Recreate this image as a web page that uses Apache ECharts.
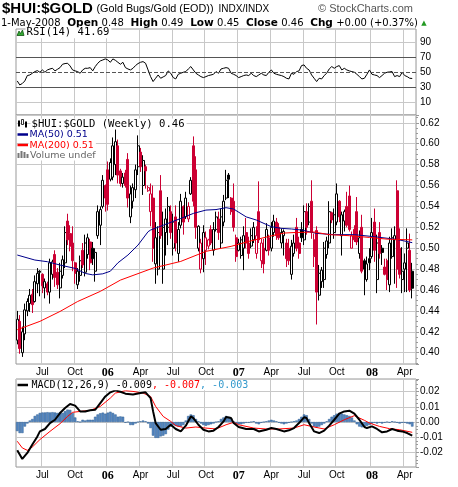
<!DOCTYPE html>
<html><head><meta charset="utf-8">
<script src="https://cdn.jsdelivr.net/npm/echarts@6/dist/echarts.min.js"></script>
<style>html,body{margin:0;padding:0;background:#fff}#c{width:458px;height:487px}</style>
</head><body><div id="c"></div>
<script>
// ---- weekly categories (Monday of each week), plus one empty pad week ----
const firstWeek = [2005, 3, 25];
const weekCount = 159;
const categories = [];
for (let k = 0; k < weekCount; k++) {
  const d = new Date(Date.UTC(firstWeek[0], firstWeek[1], firstWeek[2] + 7 * k));
  categories.push(d.toISOString().slice(0, 10));
}
const monthNames = ['Jan','Feb','Mar','Apr','May','Jun','Jul','Aug','Sep','Oct','Nov','Dec'];

// ---- candles (weekly) ----
const open = [0.412,0.430,0.400,0.418,0.440,0.447,0.456,0.449,0.466,0.478,0.475,0.462,0.466,0.458,0.475,0.494,0.477,0.462,0.474,0.486,
0.526,0.514,0.505,0.486,0.465,0.474,0.498,0.477,0.494,0.506,0.500,0.478,0.512,0.522,0.540,0.560,0.575,0.566,0.568,0.580,
0.598,0.574,0.562,0.572,0.585,0.530,0.545,0.556,0.578,0.592,0.560,0.578,0.555,0.535,0.548,0.485,0.480,0.555,0.480,0.515,
0.520,0.535,0.500,0.530,0.495,0.522,0.540,0.530,0.528,0.552,0.598,0.575,0.500,0.480,0.490,0.498,0.502,0.518,0.498,0.518,
0.528,0.505,0.525,0.548,0.570,0.548,0.545,0.510,0.498,0.493,0.500,0.515,0.505,0.502,0.508,0.495,0.535,0.488,0.500,0.498,
0.510,0.500,0.515,0.525,0.520,0.505,0.512,0.505,0.500,0.475,0.495,0.520,0.505,0.518,0.508,0.535,0.525,0.545,0.508,0.517,
0.455,0.468,0.470,0.494,0.505,0.534,0.515,0.525,0.545,0.512,0.526,0.540,0.550,0.500,0.518,0.535,0.495,0.520,0.488,0.470,
0.490,0.492,0.525,0.470,0.515,0.500,0.482,0.488,0.465,0.492,0.508,0.555,0.500,0.470,0.480,0.500,0.498,0.478];
const close = [0.432,0.404,0.420,0.441,0.449,0.455,0.446,0.468,0.476,0.477,0.464,0.468,0.458,0.486,0.487,0.472,0.465,0.478,0.489,0.515,
0.508,0.502,0.488,0.476,0.478,0.488,0.484,0.505,0.510,0.486,0.490,0.496,0.535,0.537,0.565,0.548,0.542,0.582,0.598,0.602,
0.570,0.562,0.568,0.560,0.548,0.552,0.558,0.575,0.598,0.578,0.584,0.574,0.558,0.552,0.500,0.510,0.515,0.512,0.520,0.528,
0.540,0.515,0.525,0.505,0.518,0.545,0.525,0.548,0.540,0.565,0.545,0.520,0.521,0.505,0.515,0.510,0.508,0.505,0.518,0.530,
0.515,0.530,0.545,0.565,0.566,0.535,0.520,0.492,0.505,0.508,0.512,0.505,0.495,0.512,0.520,0.512,0.508,0.505,0.485,0.518,
0.498,0.520,0.526,0.512,0.510,0.515,0.516,0.490,0.488,0.502,0.505,0.500,0.495,0.510,0.535,0.520,0.540,0.515,0.492,0.458,
0.476,0.479,0.500,0.507,0.535,0.527,0.532,0.552,0.530,0.532,0.535,0.522,0.518,0.512,0.508,0.506,0.510,0.478,0.480,0.485,
0.486,0.515,0.498,0.505,0.495,0.496,0.475,0.470,0.505,0.510,0.512,0.480,0.475,0.478,0.486,0.505,0.460,0.4617];
const low = [0.408,0.399,0.396,0.412,0.435,0.439,0.438,0.448,0.457,0.454,0.457,0.452,0.455,0.447,0.470,0.463,0.461,0.452,0.471,0.481,
0.503,0.497,0.478,0.466,0.461,0.468,0.481,0.473,0.490,0.479,0.484,0.468,0.509,0.503,0.538,0.535,0.536,0.564,0.565,0.570,
0.562,0.559,0.558,0.558,0.539,0.524,0.538,0.548,0.570,0.573,0.551,0.557,0.554,0.521,0.487,0.466,0.474,0.509,0.466,0.493,
0.503,0.509,0.493,0.497,0.487,0.519,0.513,0.528,0.525,0.551,0.540,0.509,0.497,0.476,0.477,0.484,0.499,0.503,0.493,0.516,
0.508,0.500,0.521,0.546,0.548,0.532,0.516,0.487,0.497,0.490,0.479,0.500,0.490,0.500,0.505,0.490,0.505,0.481,0.476,0.497,
0.493,0.497,0.511,0.508,0.508,0.500,0.493,0.482,0.484,0.470,0.492,0.497,0.490,0.506,0.503,0.513,0.522,0.509,0.482,0.427,
0.450,0.462,0.462,0.490,0.500,0.524,0.509,0.522,0.525,0.493,0.516,0.520,0.516,0.500,0.506,0.503,0.490,0.476,0.455,0.468,
0.479,0.490,0.487,0.457,0.490,0.484,0.474,0.460,0.458,0.490,0.466,0.462,0.471,0.457,0.458,0.458,0.458,0.452];
const high = [0.440,0.436,0.425,0.447,0.452,0.461,0.461,0.474,0.481,0.479,0.476,0.471,0.468,0.490,0.489,0.498,0.481,0.486,0.493,0.521,
0.533,0.522,0.521,0.487,0.481,0.493,0.505,0.513,0.514,0.509,0.506,0.500,0.541,0.540,0.570,0.561,0.583,0.586,0.606,0.614,
0.604,0.576,0.572,0.575,0.591,0.560,0.562,0.580,0.608,0.596,0.589,0.580,0.560,0.562,0.560,0.525,0.521,0.570,0.535,0.538,
0.549,0.541,0.533,0.541,0.525,0.552,0.541,0.554,0.544,0.568,0.607,0.588,0.522,0.509,0.522,0.516,0.509,0.522,0.525,0.535,
0.535,0.538,0.551,0.575,0.572,0.549,0.562,0.513,0.509,0.511,0.521,0.529,0.511,0.519,0.525,0.521,0.564,0.509,0.509,0.524,
0.513,0.525,0.532,0.529,0.524,0.519,0.518,0.509,0.509,0.508,0.513,0.529,0.511,0.525,0.541,0.543,0.543,0.565,0.514,0.521,
0.484,0.482,0.506,0.511,0.545,0.535,0.538,0.562,0.546,0.535,0.537,0.554,0.560,0.516,0.522,0.549,0.517,0.532,0.490,0.492,
0.500,0.529,0.538,0.513,0.525,0.503,0.490,0.490,0.511,0.519,0.521,0.565,0.519,0.501,0.495,0.519,0.514,0.486];

// ---- moving averages (read at points along the lines) ----
const ma50 = [[0,0.4935],[7,0.4887],[12,0.4871],[17,0.4839],[23,0.4807],[27,0.4759],[30,0.4745],[34,0.4755],[37,0.478],[40,0.486],
[44,0.4935],[48,0.503],[52,0.5158],[53,0.5174],[58,0.522],[65,0.5285],[70,0.5333],[75,0.5365],[79,0.537],[83,0.5388],[86,0.5375],
[91,0.530],[95,0.527],[101,0.5206],[105,0.519],[109,0.5184],[113,0.5174],[119,0.5142],[126,0.513],[134,0.513],[142,0.511],[151,0.5084],[157,0.5053]];
const ma200 = [[0,0.422],[9,0.430],[17,0.4395],[24,0.449],[33,0.4587],[41,0.4695],[54,0.481],[65,0.4874],[75,0.497],[85,0.5018],
[92,0.5065],[100,0.5113],[106,0.5145],[110,0.515],[118,0.5155],[124,0.513],[132,0.512],[140,0.5103],[147,0.5087],[157,0.508]];

// ---- RSI(14), weekly ----
const rsi = [38.4,33.1,35,38.4,45.6,46.4,48.7,50.9,52.2,50,53.1,50,53.1,54.4,55.3,51.8,54,56.2,60.7,61.6,
62,58.4,53.1,51.8,50.9,48.7,53.1,55.3,55.3,56.2,51.8,57.6,62,65.1,66.4,67.8,66.4,63.3,67.8,66,
63.3,60.7,63.3,56.2,54.4,53.1,55.3,58.9,61.6,63.3,64.2,62,53.1,44.2,37.6,42,46.4,42,43.8,45.6,
51.8,48.7,42.9,41.1,47.3,48.7,50,50.9,54.4,57.6,53.1,48.7,46.4,44.2,42.9,44.2,45.6,46.4,47.3,50.9,
48.7,54.4,55.3,56.2,55.3,48.7,47.3,45.6,42.9,44.2,45.6,46.4,45.6,48.7,45.6,44.2,46.4,48.7,46.4,45.6,
50,53.1,48.7,47.3,46.4,45.6,44.2,42,41.1,48.7,47.3,50.9,51.8,58.9,59.8,55.3,53.1,46.4,42,37.6,
42,41.1,45.6,48.7,54.4,57.6,55.3,57.6,58.9,53.1,55.3,53.1,51.8,50.9,50,47.3,44.2,41.1,42,47.3,
53.1,47.3,46.4,45.6,42.9,45.6,48.7,50,50.5,50.9,44.2,45.6,44.2,50,45.6,44.2,42,41.69];
const rsiLevels = [90, 70, 50, 30, 10];

// ---- MACD(12,26,9) ----
const macdLine = [[0,-0.0187],[2,-0.0244],[4,-0.0204],[6,-0.0149],[8,-0.0095],[9,-0.0062],[11,-0.0046],[13,-0.0007],[15,0.0015],[17,0.0059],
[19,0.0092],[21,0.0119],[23,0.0108],[25,0.0070],[27,0.0070],[29,0.0077],[31,0.0081],[33,0.0125],[35,0.0169],[37,0.0196],[39,0.0209],
[41,0.0200],[43,0.0187],[46,0.0182],[49,0.0191],[51,0.0196],[53,0.0158],[54,0.0070],[55,-0.0007],[57,-0.0051],[59,-0.0046],[61,-0.0018],
[63,-0.0046],[65,-0.0062],[67,-0.0024],[69,0.0037],[70,0.0026],[72,-0.0018],[74,-0.0051],[76,-0.0062],[78,-0.0057],[80,-0.0033],[82,0.0004],
[83,0.0033],[85,0.0026],[86,-0.0007],[88,-0.0033],[91,-0.0046],[94,-0.0046],[96,-0.0062],[99,-0.0051],[101,-0.0040],[103,-0.0046],[106,-0.0062],
[108,-0.0055],[110,-0.0040],[112,-0.0007],[114,0.0031],[115,0.0026],[116,-0.0007],[118,-0.0062],[120,-0.0073],[122,-0.0057],[124,-0.0024],
[126,0.0015],[128,0.0055],[130,0.0070],[132,0.0075],[134,0.0055],[136,0.0015],[138,-0.0033],[139,-0.0040],[141,-0.0029],[143,-0.0046],
[145,-0.0068],[147,-0.0062],[149,-0.0046],[151,-0.0057],[153,-0.0062],[155,-0.0073],[157,-0.0090]];
const signalLine = [[0,-0.0127],[2,-0.0171],[4,-0.0187],[6,-0.0165],[9,-0.0116],[13,-0.0062],[17,-0.0011],[20,0.0037],[22,0.0064],[25,0.0070],
[29,0.0077],[33,0.0103],[37,0.0158],[39,0.0191],[43,0.0207],[46,0.0202],[50,0.0191],[53,0.0169],[55,0.0103],[58,0.0037],[61,0.0004],
[63,-0.0024],[67,-0.0040],[71,-0.0033],[75,-0.0040],[79,-0.0046],[83,-0.0018],[86,-0.0002],[88,-0.0018],[94,-0.0040],[99,-0.0046],
[104,-0.0046],[110,-0.0040],[114,-0.0018],[118,-0.0033],[122,-0.0046],[126,-0.0018],[130,0.0015],[134,0.0042],[138,0.0011],[140,-0.0007],
[144,-0.0029],[148,-0.0044],[152,-0.0051],[157,-0.0068]];
const histogram = [-0.006,-0.0073,-0.0073,-0.003,-0.001,0.001,0.002,0.004,0.005,0.006,0.0063,0.0063,0.0065,0.0063,0.0065,0.0063,0.006,0.0065,0.006,0.0072,
0.0082,0.008,0.006,0.003,0.0005,0,0.0015,0.001,0.0015,0.0015,0.0015,0.0035,0.005,0.0058,0.0062,0.0055,0.0062,0.0068,0.006,0.005,
0.0035,0.0037,0.0035,-0.0005,0,-0.002,-0.002,-0.001,0,0.0005,0.001,0.0005,-0.001,-0.004,-0.009,-0.0105,-0.0105,-0.0095,-0.009,-0.008,
-0.005,-0.003,-0.002,-0.0025,-0.003,-0.003,-0.002,0.001,0.004,0.005,0.0045,0.002,0.0005,-0.001,-0.002,-0.0025,-0.002,-0.0015,-0.001,0,
0.0005,0.002,0.003,0.004,0.0035,0.0025,0.0005,-0.001,-0.0015,-0.0015,-0.001,-0.0005,-0.0005,0,0.0005,-0.001,-0.0015,-0.0005,0,0.0005,
0.001,0.0015,0.001,0.0005,-0.0005,-0.001,-0.0015,-0.001,-0.0005,0,0.0005,0.001,0.002,0.0035,0.005,0.0045,0.002,-0.001,-0.003,-0.0035,
-0.003,-0.002,-0.001,0.0005,0.002,0.0035,0.0045,0.0055,0.006,0.0055,0.005,0.0045,0.004,0.003,0.001,-0.0015,-0.003,-0.0035,-0.003,-0.0025,
-0.002,-0.001,-0.0005,-0.001,-0.0005,-0.001,-0.0005,0,-0.0005,0.0005,0,-0.0005,-0.001,-0.0005,-0.0005,-0.001,-0.0015,-0.003];

// ---- styling ----
const RED = '#cc0033', BLK = '#000000', GRIDC = '#c8c8c8', FRAME = '#999999';
const AXF = '"Liberation Sans", Arial, sans-serif';

function isQuarterStart(idx) {
  if (idx <= 0 || idx >= categories.length) return false;
  const m = +categories[idx].slice(5, 7) - 1;
  const pm = +categories[idx - 1].slice(5, 7) - 1;
  return m !== pm && m % 3 === 0;
}
function xLabel(value) {
  const m = +value.slice(5, 7) - 1;
  if (m === 0) return '{y|' + value.slice(2, 4) + '}';
  return '{m|' + monthNames[m] + '}';
}

const candleData = open.map((o, i) => {
  const c = close[i];
  const prev = i > 0 ? close[i - 1] : o;
  const col = c < prev ? RED : BLK;
  const fill = c > o ? '#ffffff' : col;
  return { value: [o, c, low[i], high[i]], itemStyle: { color: fill, color0: fill, borderColor: col, borderColor0: col } };
});

function makeX(gi, showLabels) {
  return {
    type: 'category', gridIndex: gi, data: categories, boundaryGap: true,
    axisLine: { show: false }, axisTick: { show: false },
    axisLabel: {
      show: showLabels, interval: (i) => isQuarterStart(i), formatter: xLabel, margin: 3,
      rich: {
        m: { fontFamily: AXF, fontSize: 10, color: '#000' },
        y: { fontFamily: '"Liberation Serif", serif', fontSize: 12, fontWeight: 'bold', color: '#000' }
      }
    },
    splitLine: { show: true, interval: (i) => isQuarterStart(i), lineStyle: { color: GRIDC, width: 1 } }
  };
}
const yLab = { fontFamily: AXF, fontSize: 10, color: '#000', margin: 4, showMinLabel: false, showMaxLabel: false };
const yTick = { show: true, length: 3, lineStyle: { color: FRAME } };
const yMinor = { show: true, splitNumber: 4, length: 2, lineStyle: { color: FRAME } };

const option = {
  animation: false,
  backgroundColor: '#fff',
  grid: [
    { left: 16, top: 29, width: 400, height: 86, show: true, borderColor: FRAME, borderWidth: 1 },
    { left: 16, top: 115, width: 400, height: 249, show: true, borderColor: FRAME, borderWidth: 1 },
    { left: 16, top: 379, width: 400, height: 88, show: true, borderColor: FRAME, borderWidth: 1 }
  ],
  xAxis: [makeX(0, false), makeX(1, true), makeX(2, true)],
  yAxis: [
    { type: 'value', gridIndex: 0, position: 'right', min: -7, max: 107.7,
      axisLabel: { show: false }, splitLine: { show: false }, axisLine: { show: false }, axisTick: { show: false } },
    { type: 'value', gridIndex: 1, position: 'right', min: 0.3892, max: 0.6275, splitNumber: 12,
      axisLabel: Object.assign({ formatter: (v) => v.toFixed(2) }, yLab),
      splitLine: { show: true, lineStyle: { color: GRIDC } }, axisLine: { show: false },
      axisTick: yTick, minorTick: yMinor },
    { type: 'value', gridIndex: 2, position: 'right', min: -0.0297, max: 0.0284, splitNumber: 6,
      axisLabel: Object.assign({ formatter: (v) => v.toFixed(2) }, yLab),
      splitLine: { show: true, lineStyle: { color: GRIDC } }, axisLine: { show: false },
      axisTick: yTick, minorTick: yMinor }
  ],
  series: [
    { type: 'line', xAxisIndex: 0, yAxisIndex: 0, data: rsi, showSymbol: false, symbol: 'none',
      lineStyle: { color: '#000', width: 1 }, z: 3,
      markLine: {
        silent: true, symbol: ['none', 'none'], animation: false,
        label: { show: true, position: 'end', formatter: (p) => String(p.value), color: '#000', fontSize: 10, fontFamily: AXF, distance: 4 },
        data: rsiLevels.map((lv) => ({
          yAxis: lv,
          lineStyle: (lv === 70 || lv === 30) ? { color: '#555', type: 'solid', width: 1 }
                   : (lv === 50 ? { color: '#555', type: 'dashed', width: 1 } : { color: GRIDC, type: 'solid', width: 1 })
        }))
      } },
    { type: 'candlestick', xAxisIndex: 1, yAxisIndex: 1, data: candleData, barWidth: 2.5, z: 3,
      itemStyle: { borderWidth: 1 } },
    { type: 'line', xAxisIndex: 1, yAxisIndex: 1, data: ma50, showSymbol: false, symbol: 'none',
      lineStyle: { color: '#00008b', width: 1 }, z: 4 },
    { type: 'line', xAxisIndex: 1, yAxisIndex: 1, data: ma200, showSymbol: false, symbol: 'none',
      lineStyle: { color: '#ff0000', width: 1 }, z: 4 },
    { type: 'bar', xAxisIndex: 2, yAxisIndex: 2, data: histogram, barWidth: 2.5,
      itemStyle: { color: '#5588c4', borderColor: '#2d5d90', borderWidth: 0.5 }, z: 2 },
    { type: 'line', xAxisIndex: 2, yAxisIndex: 2, data: signalLine, showSymbol: false, symbol: 'none',
      lineStyle: { color: '#ff0000', width: 1 }, z: 3 },
    { type: 'line', xAxisIndex: 2, yAxisIndex: 2, data: macdLine, showSymbol: false, symbol: 'none',
      lineStyle: { color: '#000', width: 2 }, z: 4 }
  ],
  graphic: [
    // header
    { type: 'text', x: 2, y: 8.5, z: 100, style: { text: '$HUI:$GOLD', font: 'bold 15px "Liberation Sans"', fill: '#000', verticalAlign: 'middle' } },
    { type: 'text', x: 96.5, y: 9, z: 100, style: { text: '(Gold Bugs/Gold (EOD))', font: '10.8px "Liberation Sans"', fill: '#000', verticalAlign: 'middle' } },
    { type: 'text', x: 218.5, y: 9, z: 100, style: { text: 'INDX/INDX', font: '10px "Liberation Sans"', fill: '#000', verticalAlign: 'middle' } },
    { type: 'text', x: 318, y: 9, z: 100, style: { text: '\u00a9 StockCharts.com', font: '11px "Liberation Sans"', fill: '#555', verticalAlign: 'middle' } },
    { type: 'text', x: 1, y: 23.5, z: 100, style: {
        text: '{n|1-May-2008}  {b|Open} {n|0.48}  {b|High} {n|0.49}  {b|Low} {n|0.45}  {b|Close} {n|0.46}  {b|Chg} {n|+0.00 (+0.37%)} {g|\u25b2}',
        verticalAlign: 'middle',
        rich: {
          n: { fontFamily: '"DejaVu Sans"', fontSize: 10, fill: '#000' },
          b: { fontFamily: '"DejaVu Sans"', fontSize: 10.5, fontWeight: 'bold', fill: '#000' },
          g: { fontFamily: '"DejaVu Sans"', fontSize: 7, fill: '#229922' }
        } } },
    // RSI legend
    { type: 'polygon', z: 100, shape: { points: [[17, 35.5], [19, 31], [20.5, 33.5], [22.5, 30], [24, 35.5]] }, style: { fill: '#33aa33', stroke: '#115511', lineWidth: 0.8 } },
    { type: 'text', x: 25.5, y: 32.7, z: 100, style: { text: 'RSI(14) 41.69', font: '10.6px "DejaVu Sans Mono"', fill: '#000', verticalAlign: 'middle', backgroundColor: '#fff', padding: [0, 2, 0, 1] } },
    // main legend
    { type: 'rect', z: 100, shape: { x: 18, y: 120.5, width: 2, height: 6 }, style: { fill: '#000' } },
    { type: 'rect', z: 100, shape: { x: 21.5, y: 119.5, width: 2, height: 5 }, style: { fill: '#fff', stroke: '#000', lineWidth: 0.8 } },
    { type: 'rect', z: 100, shape: { x: 25, y: 121.5, width: 2, height: 6 }, style: { fill: '#000' } },
    { type: 'text', x: 30.5, y: 124, z: 100, style: { text: '$HUI:$GOLD (Weekly) 0.46', font: '10.6px "DejaVu Sans Mono"', fill: '#000', verticalAlign: 'middle', backgroundColor: '#fff', padding: [0, 2, 0, 1] } },
    { type: 'line', z: 100, shape: { x1: 17.5, y1: 134.5, x2: 28, y2: 134.5 }, style: { stroke: '#00008b', lineWidth: 2.5 } },
    { type: 'text', x: 28.5, y: 134.8, z: 100, style: { text: 'MA(50) 0.51', font: '9.5px "DejaVu Sans"', fill: '#00008b', verticalAlign: 'middle', backgroundColor: '#fff', padding: [0, 2, 0, 1] } },
    { type: 'line', z: 100, shape: { x1: 17.5, y1: 145, x2: 28, y2: 145 }, style: { stroke: '#ff0000', lineWidth: 2.5 } },
    { type: 'text', x: 28.5, y: 145.3, z: 100, style: { text: 'MA(200) 0.51', font: '9.5px "DejaVu Sans"', fill: '#ff0000', verticalAlign: 'middle', backgroundColor: '#fff', padding: [0, 2, 0, 1] } },
    { type: 'rect', z: 100, shape: { x: 17.5, y: 153, width: 2, height: 5 }, style: { fill: '#777' } },
    { type: 'rect', z: 100, shape: { x: 20.5, y: 151, width: 2, height: 7 }, style: { fill: '#777' } },
    { type: 'rect', z: 100, shape: { x: 23.5, y: 152, width: 2, height: 6 }, style: { fill: '#777' } },
    { type: 'rect', z: 100, shape: { x: 26.5, y: 154, width: 2, height: 4 }, style: { fill: '#777' } },
    { type: 'text', x: 29, y: 155.5, z: 100, style: { text: 'Volume undef', font: '9.5px "DejaVu Sans"', fill: '#666', verticalAlign: 'middle', backgroundColor: '#fff', padding: [0, 2, 0, 1] } },
    // MACD legend
    { type: 'line', z: 100, shape: { x1: 17.5, y1: 385, x2: 28, y2: 385 }, style: { stroke: '#000', lineWidth: 2.5 } },
    { type: 'text', x: 30.5, y: 385.3, z: 100, style: {
        text: '{k|MACD(12,26,9) -0.009}{r|, -0.007}{b|, -0.003}', verticalAlign: 'middle', backgroundColor: '#fff', padding: [0, 2, 0, 1],
        rich: {
          k: { fontFamily: '"DejaVu Sans Mono"', fontSize: 10, fill: '#000' },
          r: { fontFamily: '"DejaVu Sans Mono"', fontSize: 10, fill: '#ff0000' },
          b: { fontFamily: '"DejaVu Sans Mono"', fontSize: 10, fill: '#3399cc' }
        } } }
  ]
};

const chart = echarts.init(document.getElementById('c'), null, { renderer: 'canvas' });
chart.setOption(option);
</script>
</body></html>
